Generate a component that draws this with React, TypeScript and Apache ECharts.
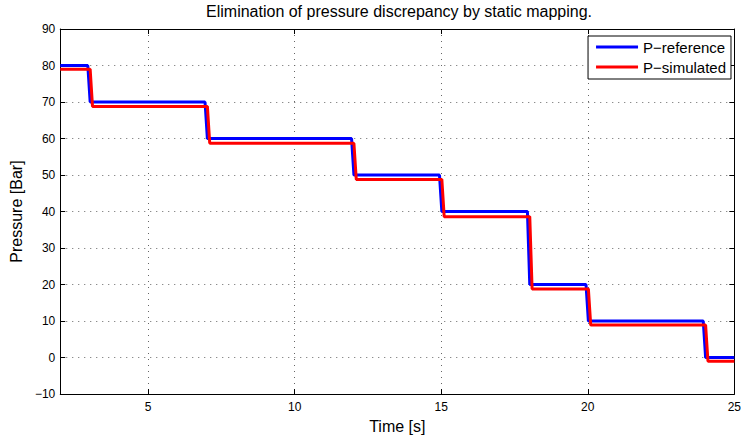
import React, { useEffect, useRef } from "react";
import * as echarts from "echarts";

const titleText = "Elimination of pressure discrepancy by static mapping.";
const xName = "Time [s]";
const yName = "Pressure [Bar]";
const seriesNames = ["P\u2212reference", "P\u2212simulated"];

const xTicks = [5, 10, 15, 20, 25];
const refT = [2, 2.94, 3.02, 6.94, 7.02, 11.94, 12.02, 14.94, 15.02, 17.94, 18.02, 19.94, 20.02, 23.94, 24.02, 25];
const refP = [80, 80, 70, 70, 60, 60, 50, 50, 40, 40, 20, 20, 10, 10, 0, 0];
const simT = [2, 3.02, 3.1, 7.02, 7.1, 12.02, 12.1, 15.02, 15.1, 18.02, 18.1, 20.02, 20.1, 24.02, 24.1, 25];
const simP = [79, 79, 68.8, 68.8, 58.7, 58.7, 48.8, 48.8, 38.6, 38.6, 18.8, 18.8, 8.9, 8.9, -1, -1];

const font = "'Liberation Sans', Arial, Helvetica, sans-serif";

export default function App() {
  const ref = useRef<HTMLDivElement>(null);
  useEffect(() => {
    if (!ref.current) return;
    const chart = echarts.init(ref.current, undefined, { renderer: "svg" });
    const dotted = { color: "#666", width: 1, type: [1, 5] as number[] };
    const axisLine = { show: true, onZero: false, lineStyle: { color: "#000", width: 1 } };
    const tick = { show: true, inside: true, length: 5, lineStyle: { color: "#000" } };
    chart.setOption({
      animation: false,
      backgroundColor: "#fff",
      textStyle: { fontFamily: font },
      title: {
        text: titleText,
        left: 399,
        top: 3,
        textAlign: "center",
        padding: 0,
        textStyle: { fontSize: 16, fontWeight: "normal", color: "#000", fontFamily: font },
      },
      legend: {
        right: 13,
        top: 36,
        orient: "vertical",
        icon: "rect",
        itemWidth: 42,
        itemHeight: 3,
        itemGap: 4,
        padding: [3, 5, 4, 8],
        backgroundColor: "#fff",
        borderColor: "#000",
        borderWidth: 1,
        borderRadius: 0,
        textStyle: { fontSize: 15, lineHeight: 16, color: "#000", fontFamily: font },
        data: seriesNames,
      },
      grid: { left: 60, right: 7, top: 29, bottom: 43 },
      xAxis: [
        {
          type: "value",
          min: 2,
          max: 25,
          name: xName,
          nameLocation: "middle",
          nameGap: 20,
          nameTextStyle: { fontSize: 16, color: "#000", fontFamily: font },
          axisLine,
          axisTick: { ...tick, customValues: xTicks },
          axisLabel: {
            color: "#000",
            fontSize: 12,
            margin: 7,
            fontFamily: font,
            customValues: xTicks,
          },
          splitLine: { show: true, lineStyle: dotted },
        },
        {
          type: "value",
          position: "top",
          min: 2,
          max: 25,
          axisLine,
          axisTick: { ...tick, customValues: xTicks },
          axisLabel: { show: false },
          splitLine: { show: false },
        },
      ],
      yAxis: [
        {
          type: "value",
          min: -10,
          max: 90,
          interval: 10,
          name: yName,
          nameLocation: "middle",
          nameGap: 32,
          nameTextStyle: { fontSize: 16, color: "#000", fontFamily: font },
          axisLine,
          axisTick: tick,
          axisLabel: {
            color: "#000",
            fontSize: 12,
            margin: 5,
            fontFamily: font,
            formatter: (v: number) => (v < 0 ? "\u2212" + Math.abs(v) : String(v)),
          },
          splitLine: { show: true, lineStyle: dotted },
        },
        {
          type: "value",
          position: "right",
          min: -10,
          max: 90,
          interval: 10,
          axisLine,
          axisTick: tick,
          axisLabel: { show: false },
          splitLine: { show: false },
        },
      ],
      series: [
        {
          name: seriesNames[0],
          type: "line",
          showSymbol: false,
          symbol: "none",
          color: "#0000ff",
          lineStyle: { color: "#0000ff", width: 3 },
          data: refT.map((t, i) => [t, refP[i]]),
          z: 2,
        },
        {
          name: seriesNames[1],
          type: "line",
          showSymbol: false,
          symbol: "none",
          color: "#ff0000",
          lineStyle: { color: "#ff0000", width: 3 },
          data: simT.map((t, i) => [t, simP[i]]),
          z: 3,
        },
      ],
    });
    return () => chart.dispose();
  }, []);
  return <div ref={ref} style={{ width: 744, height: 439, position: "absolute", left: 0, top: 0 }} />;
}
